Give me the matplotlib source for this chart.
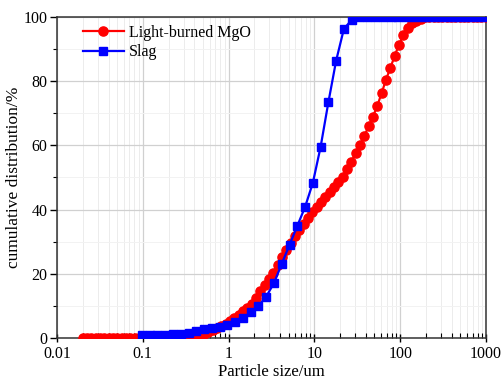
import matplotlib
matplotlib.use("Agg")
import matplotlib.pyplot as plt
from matplotlib.ticker import LogLocator, FixedLocator, NullFormatter, FuncFormatter

# ---- data ----
mgo_size = [0.0200, 0.0225, 0.0252, 0.0283, 0.0318, 0.0357, 0.0401, 0.0451, 0.0506, 0.0568,
            0.0638, 0.0717, 0.0805, 0.0904, 0.1016, 0.1141, 0.1281, 0.1439, 0.1617, 0.1816,
            0.2040, 0.2291, 0.2574, 0.2891, 0.3247, 0.3648, 0.4097, 0.4602, 0.5170, 0.5807,
            0.6523, 0.7327, 0.8230, 0.9245, 1.0385, 1.1665, 1.3103, 1.4718, 1.6532, 1.8570,
            2.0859, 2.3431, 2.6319, 2.9564, 3.3208, 3.7302, 4.1900, 4.7065, 5.2867, 5.9384,
            6.6705, 7.4928, 8.4164, 9.4540, 10.619, 11.928, 13.399, 15.050, 16.906, 18.990,
            21.331, 23.960, 26.914, 30.232, 33.959, 38.145, 42.847, 48.129, 54.062, 60.727,
            68.213, 76.622, 86.067, 96.677, 108.59, 121.98, 137.02, 153.91, 172.88, 194.19,
            218.13, 245.02, 275.23, 309.16, 347.27, 390.08, 438.16, 492.18, 552.85, 621.00,
            697.56, 783.55, 880.14, 988.64]
mgo_cum = [0.1, 0.1, 0.1, 0.1, 0.1, 0.1, 0.1, 0.1, 0.1, 0.1,
           0.1, 0.1, 0.1, 0.1, 0.1, 0.1, 0.1, 0.1, 0.1, 0.1,
           0.1, 0.1, 0.2, 0.2, 0.3, 0.4, 0.6, 0.9, 1.3, 1.9,
           2.5, 3.1, 3.8, 4.5, 5.3, 6.3, 7.3, 8.3, 9.3, 10.5,
           12.5, 14.5, 16.5, 18.4, 20.4, 22.8, 25.1, 27.4, 29.7, 31.7,
           33.6, 35.5, 37.3, 39.1, 40.8, 42.3, 43.9, 45.4, 47.0, 48.5,
           50.1, 52.5, 54.9, 57.5, 60.0, 62.9, 65.9, 68.9, 72.3, 76.2,
           80.4, 84.0, 87.8, 91.3, 94.3, 96.7, 98.0, 98.9, 99.5, 99.9,
           100, 100, 100, 100, 100, 100, 100, 100, 100, 100,
           100, 100, 100, 100]

slag_size = [0.0977, 0.1203, 0.1482, 0.1826, 0.2249, 0.2771, 0.3413, 0.4204, 0.5179, 0.6379,
             0.7859, 0.9681, 1.1925, 1.4690, 1.8097, 2.2293, 2.7462, 3.3830, 4.1673, 5.1336,
             6.3240, 7.7904, 9.5968, 11.822, 14.563, 17.940, 22.100, 27.224, 33.537, 41.313,
             50.893, 62.694, 77.231, 95.140, 117.20, 144.38, 177.85, 219.09, 269.89, 332.47,
             409.57, 504.54, 621.53, 765.65, 943.18]
slag_cum = [0.9, 0.9, 1.0, 1.0, 1.1, 1.2, 1.4, 2.2, 2.8, 3.1,
            3.5, 4.0, 4.9, 6.2, 8.0, 10.0, 12.9, 17.1, 23.1, 29.0,
            34.9, 40.8, 48.3, 59.5, 73.4, 86.4, 96.3, 99.1, 100, 100,
            100, 100, 100, 100, 100, 100, 100, 100, 100, 100,
            100, 100, 100, 100, 100]

series_names = ["Light-burned MgO", "Slag"]
x_ticks = [0.01, 0.1, 1, 10, 100, 1000]
x_tick_labels = ["0.01", "0.1", "1", "10", "100", "1000"]
y_ticks = [0, 20, 40, 60, 80, 100]

plt.rcParams['font.family'] = ['Liberation Serif', 'DejaVu Serif']

fig = plt.figure(figsize=(5.02, 3.82), dpi=100)
ax = fig.add_axes([0.1135, 0.1152, 0.8545, 0.8403])

ax.plot(mgo_size, mgo_cum, color='#ff0000', marker='o', markersize=6.6,
        linewidth=1.6, label=series_names[0], zorder=3)
ax.plot(slag_size, slag_cum, color='#0000ff', marker='s', markersize=5.2,
        linewidth=1.6, label=series_names[1], zorder=4)

ax.set_xscale('log')
ax.set_xlim(0.01, 1000)
ax.set_ylim(0, 100)

ax.xaxis.set_major_locator(FixedLocator(x_ticks))
ax.xaxis.set_major_formatter(FuncFormatter(lambda v, p: x_tick_labels[x_ticks.index(v)] if v in x_ticks else ""))
ax.xaxis.set_minor_locator(LogLocator(base=10, subs=range(2, 10)))
ax.xaxis.set_minor_formatter(NullFormatter())
ax.set_yticks(y_ticks)
ax.set_yticks([10, 30, 50, 70, 90], minor=True)

ax.grid(which='major', axis='both', color='#d0d0d0', linewidth=0.9, zorder=0)
ax.grid(which='minor', axis='x', color='#ececec', linewidth=0.7, zorder=0)
ax.grid(which='minor', axis='y', color='#f2f2f2', linewidth=0.7, zorder=0)
ax.set_axisbelow(True)

ax.tick_params(axis='x', which='major', direction='inout', length=6, width=1.0,
               labelsize=11.5, pad=3)
ax.tick_params(axis='x', which='minor', direction='in', length=3.5, width=0.8)
ax.tick_params(axis='y', which='major', direction='out', length=5, width=1.0,
               labelsize=11.5, pad=2)
ax.tick_params(axis='y', which='minor', direction='out', length=3, width=0.8)

for s in ax.spines.values():
    s.set_linewidth(1.1)
    s.set_color('#333333')

ax.set_xlabel("Particle size/um", fontsize=12, labelpad=1)
ax.set_ylabel("cumulative distribution/%", fontsize=12.5, labelpad=1)

leg = ax.legend(loc='upper left', frameon=False, fontsize=11.5, handlelength=2.6,
                handletextpad=0.3, labelspacing=0.2, borderaxespad=0.0,
                bbox_to_anchor=(0.045, 0.995))

fig.savefig("out.png", dpi=100)
